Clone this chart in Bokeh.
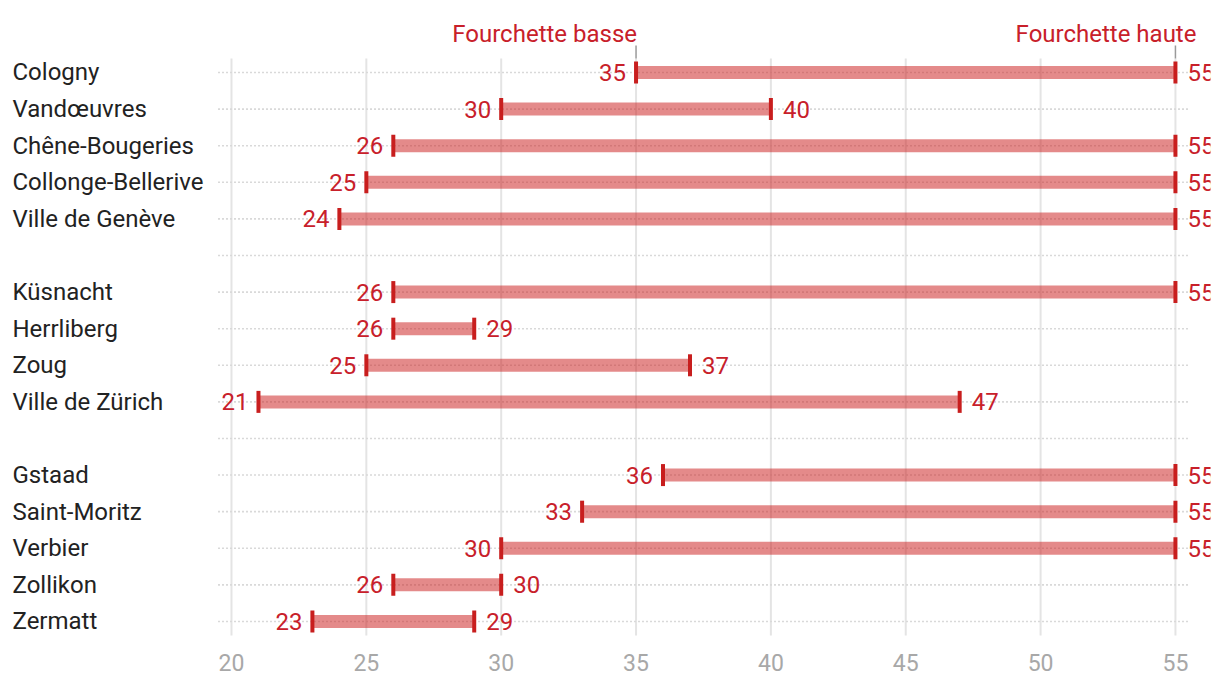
from bokeh.plotting import figure
from bokeh.models import Range1d, ColumnDataSource, FixedTicker
from bokeh.core.properties import value
from bokeh.embed import file_html
from bokeh.resources import INLINE

names = ["Cologny", "Vandœuvres", "Chêne-Bougeries", "Collonge-Bellerive", "Ville de Genève",
         "Küsnacht", "Herrliberg", "Zoug", "Ville de Zürich",
         "Gstaad", "Saint-Moritz", "Verbier", "Zollikon", "Zermatt"]
groups = [0, 0, 0, 0, 0, 1, 1, 1, 1, 2, 2, 2, 2, 2]
low = [35, 30, 26, 25, 24, 26, 26, 25, 21, 36, 33, 30, 26, 23]
high = [55, 40, 55, 55, 55, 55, 29, 37, 47, 55, 55, 55, 30, 29]
x_ticks = [20, 25, 30, 35, 40, 45, 50, 55]
header_labels = ["Fourchette basse", "Fourchette haute"]
header_x = [35, 55]

RED = "#c8202a"
FONT = "Roboto"
FS = "24px"

rows = [i + g for i, g in enumerate(groups)]
n_rows = len(names) + max(groups)
all_rows = list(range(n_rows))

src = ColumnDataSource(dict(
    name=names, row=rows, low=low, high=high,
    low_s=[str(v) for v in low], high_s=[str(v) for v in high],
))

p = figure(width=1220, height=684, output_backend="svg", toolbar_location=None,
           x_range=Range1d(11.435, 56.30), y_range=Range1d(15.52, -1.967),
           y_axis_location=None, min_border_left=0, min_border_right=10,
           min_border_top=0, min_border_bottom=44)
p.outline_line_color = None
p.xgrid.visible = False
p.ygrid.visible = False
p.background_fill_color = "white"
p.border_fill_color = "white"

ax = p.xaxis[0]
ax.ticker = FixedTicker(ticks=x_ticks)
ax.axis_line_color = None
ax.major_tick_line_color = None
ax.minor_tick_line_color = None
ax.major_label_text_color = "#a8a8a8"
ax.major_label_text_font = FONT
ax.major_label_text_font_size = "23px"
ax.major_label_standoff = 7

# vertical grid lines
p.segment(x0=x_ticks, x1=x_ticks, y0=[-0.38] * len(x_ticks), y1=[n_rows - 1 + 0.38] * len(x_ticks),
          line_color="#e4e4e4", line_width=2)
# horizontal dotted lines
p.segment(x0=[19.5] * n_rows, x1=[55.5] * n_rows, y0=all_rows, y1=all_rows,
          line_color="#d9d9d9", line_width=1.6, line_dash="2 2")
# header ticks
p.segment(x0=header_x, x1=header_x, y0=[-0.74] * 2, y1=[-0.38] * 2,
          line_color="#9a9a9a", line_width=1.5)

# bars
p.segment(x0="low", x1="high", y0="row", y1="row", source=src,
          line_color="#cc1f1f", line_alpha=0.52, line_width=13)
# end caps
for col in ("low", "high"):
    p.rect(x=col, y="row", width=4, height=22, width_units="screen", height_units="screen",
           source=src, fill_color="#c81e1e", line_color=None)

# value labels
p.text(x="low", y="row", text="low_s", source=src, x_offset=-10, text_align="right",
       text_baseline="middle", text_color=RED, text_font=value(FONT), text_font_size=FS)
p.text(x="high", y="row", text="high_s", source=src, x_offset=12, text_align="left",
       text_baseline="middle", text_color=RED, text_font=value(FONT), text_font_size=FS)

# category labels
p.text(x=11.88, y="row", text="name", source=src, text_align="left",
       text_baseline="middle", text_color="#222222", text_font=value(FONT), text_font_size=FS)

# header labels
p.text(x=header_x, y=[-1.04] * 2, text=header_labels, x_offset=[1, 21], text_align="right",
       text_baseline="middle", text_color=RED, text_font=value(FONT), text_font_size=FS)

open("out.html", "w").write(file_html(p, INLINE))
